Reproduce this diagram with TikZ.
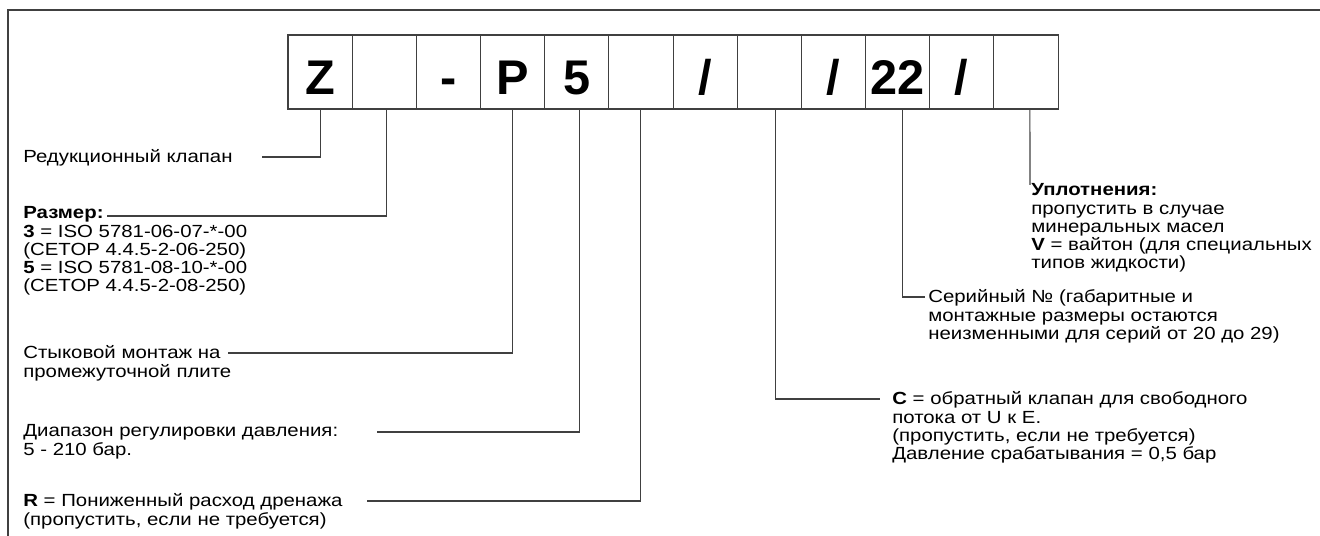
\documentclass[tikz,border=0pt]{standalone}
\usepackage{fontspec}
\setmainfont{Liberation Sans}[FakeStretch=1.16]
\newfontfamily\feldfont{Liberation Sans}
\definecolor{grafit}{RGB}{64,64,64}

\begin{document}
\begin{tikzpicture}[
  font=\fontsize{10}{10.4}\selectfont,
  pole/.style={draw=grafit, line width=0.6pt, minimum width=1.283cm, minimum height=1.48cm,
    inner sep=0pt, text height=0.92cm, text depth=0cm,
    font=\feldfont\bfseries\fontsize{27.7}{30}\selectfont},
  vynoska/.style={draw=grafit, line width=0.6pt},
  podpis/.style={anchor=north west, align=left, inner sep=0pt, execute at begin node=\strut}
]
\useasboundingbox (0,0) rectangle (26.40,-10.72);

%--------------------------------------------------------------
% Ramka
%--------------------------------------------------------------
\draw[draw=grafit, line width=1pt] (26.40,-0.20) -- (0.16,-0.20) -- (0.16,-10.72);

%--------------------------------------------------------------
% Kod zakaza
%--------------------------------------------------------------
\node[pole] (b1) at (6.402,-1.44) {Z};
\node[pole] (b2) at (7.686,-1.44) {};
\node[pole] (b3) at (8.969,-1.44) {-};
\node[pole] (b4) at (10.252,-1.44) {P};
\node[pole] (b5) at (11.535,-1.44) {5};
\node[pole] (b6) at (12.819,-1.44) {};
\node[pole] (b7) at (14.102,-1.44) {/};
\node[pole] (b8) at (15.385,-1.44) {};
\node[pole] (b9) at (16.669,-1.44) {/};
\node[pole] (b10) at (17.952,-1.44) {22};
\node[pole] (b11) at (19.235,-1.44) {/};
\node[pole] (b12) at (20.519,-1.44) {};

%--------------------------------------------------------------
% Levye poyasneniya
%--------------------------------------------------------------
\coordinate (k1) at (5.24,-3.14);
\coordinate (k2) at (2.14,-4.32);
\coordinate (k4) at (4.56,-7.06);
\coordinate (k5) at (7.54,-8.64);
\coordinate (k6) at (7.34,-10.02);
\draw[vynoska] (b1.south) |- (k1);
\draw[vynoska] ([xshift=0.04cm]b2.south) |- (k2);
\draw[vynoska] (b4.south) |- (k4);
\draw[vynoska] ([xshift=0.06cm]b5.south) |- (k5);
\draw[vynoska] (b6.south) |- (k6);

\node[podpis] (tred) at (0.46,-2.988) {Редукционный клапан};
\node[podpis] (trazm) at (0.46,-4.128) {\textbf{Размер:}\\
  \textbf{3} = ISO 5781-06-07-*-00\\
  (CETOP 4.4.5-2-06-250)\\
  \textbf{5} = ISO 5781-08-10-*-00\\
  (CETOP 4.4.5-2-08-250)};
\node[podpis] (tstyk) at (0.46,-6.908) {Стыковой монтаж на\\промежуточной плите};
\node[podpis] (tdiap) at (0.46,-8.488) {Диапазон регулировки давления:\\5 - 210 бар.};
\node[podpis] (tdren) at (0.46,-9.868) {\textbf{R} = Пониженный расход дренажа\\
  (пропустить, если не требуется)};

%--------------------------------------------------------------
% Pravye poyasneniya
%--------------------------------------------------------------
\coordinate (k8) at (17.60,-7.98);
\coordinate (k10) at (18.50,-5.94);
\coordinate (k12) at (20.60,-3.70);
\draw[vynoska] ([xshift=0.12cm]b8.south) |- (k8);
\draw[vynoska] ([xshift=0.10cm]b10.south) |- (k10);
\draw[vynoska] ([xshift=0.08cm]b12.south) -- (k12);

\node[podpis] (tupl) at (20.62,-3.668) {\textbf{Уплотнения:}\\
  пропустить в случае\\
  минеральных масел\\
  \textbf{V} = вайтон (для специальных\\
  типов жидкости)};
\node[podpis] (tser) at (18.56,-5.788) {Серийный № (габаритные и\\
  монтажные размеры остаются\\
  неизменными для серий от 20 до 29)};
\node[podpis] (tobr) at (17.84,-7.828) {\textbf{C} = обратный клапан для свободного\\
  потока от U к E.\\
  (пропустить, если не требуется)\\
  Давление срабатывания = 0,5 бар};

\end{tikzpicture}
\end{document}
